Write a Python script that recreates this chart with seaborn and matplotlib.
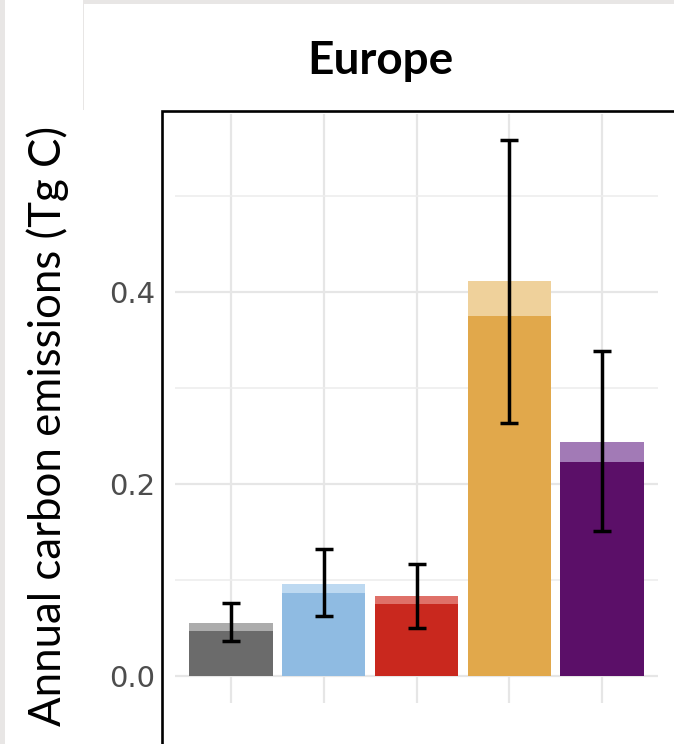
import numpy as np
import pandas as pd
import seaborn as sns
from matplotlib import pyplot as plt
from matplotlib.patches import Rectangle
from matplotlib.ticker import MultipleLocator

# bar values (Tg C)
categories = ["grey", "blue", "red", "orange", "purple"]
total_vals = [0.0555, 0.0958, 0.0833, 0.411, 0.244]   # light top of each bar
main_vals = [0.047, 0.086, 0.0746, 0.375, 0.223]      # dark part
err_low = [0.036, 0.062, 0.0497, 0.264, 0.151]
err_high = [0.076, 0.132, 0.1167, 0.5587, 0.339]
ytick_vals = [0.0, 0.2, 0.4]
ytick_labels = ["0.0", "0.2", "0.4"]

dark_cols = ["#6b6b6b", "#8fbbe2", "#c9281e", "#e1a84b", "#5b0f68"]
light_cols = ["#acacac", "#bdd9f1", "#df7068", "#efd19b", "#a27ab6"]

df = pd.DataFrame({"cat": categories, "total": total_vals, "main": main_vals})

sns.set_style("white")
plt.rcParams["font.family"] = ["DejaVu Sans"]

fig = plt.figure(figsize=(6.74, 7.44), dpi=100)
ax = fig.add_axes([175 / 674, (744 - 703) / 744, 483 / 674, 589 / 744])

sns.barplot(data=df, x="cat", y="total", hue="cat", palette=light_cols,
            width=0.9, saturation=1, legend=False, ax=ax, zorder=2,
            linewidth=0)
sns.barplot(data=df, x="cat", y="main", hue="cat", palette=dark_cols,
            width=0.9, saturation=1, legend=False, ax=ax, zorder=3,
            linewidth=0)

xpos = np.arange(len(categories))
mid = [(lo + hi) / 2 for lo, hi in zip(err_low, err_high)]
half = [(hi - lo) / 2 for lo, hi in zip(err_low, err_high)]
ax.errorbar(xpos, mid, yerr=half, fmt="none", ecolor="black",
            elinewidth=2.5, capsize=6.5, capthick=2.5, zorder=4)

ax.set_xlim(-0.6, 4.6)
ax.set_ylim(-0.0281, 0.5854)
ax.yaxis.set_minor_locator(MultipleLocator(0.1))
ax.set_yticks(ytick_vals)
ax.set_yticklabels(ytick_labels, fontsize=21, color="#4d4d4d")
ax.set_xticks(xpos)
ax.set_xticklabels([])
ax.grid(True, which="major", color="#e6e6e6", lw=1.6)
ax.grid(True, which="minor", axis="y", color="#ededed", lw=1.2)
ax.set_axisbelow(True)
ax.tick_params(axis="y", which="both", length=0, pad=14)
ax.tick_params(axis="x", length=0)
ax.set_xlabel("")
ax.set_ylabel("")
for s in ax.spines.values():
    s.set_visible(False)

# black frame round the panel (cut by the picture edge)
fig.patches.append(Rectangle((162 / 674, -0.2), 1.0, (744 - 111) / 744 + 0.2,
                             transform=fig.transFigure, fill=False,
                             edgecolor="black", lw=1.9, zorder=5))

# light grey screenshot edges
edge = "#e8e6e5"
fig.patches.append(Rectangle((0, 0), 5 / 674, 1, transform=fig.transFigure,
                             color=edge, lw=0))
fig.patches.append(Rectangle((83 / 674, 1 - 4 / 744), 1, 4 / 744,
                             transform=fig.transFigure, color=edge, lw=0))
fig.patches.append(Rectangle((83 / 674, 1 - 110 / 744), 1.2 / 674, 110 / 744,
                             transform=fig.transFigure, color=edge, lw=0))

fig.text(380 / 674, 1 - 61 / 744, "Europe", ha="center", va="center",
         fontsize=33, fontweight="bold", color="black",
         family=["Lato", "DejaVu Sans"])
fig.text(48 / 674, 1 - 426 / 744, "Annual carbon emissions (Tg C)",
         rotation=90, ha="center", va="center", fontsize=31.5, color="black",
         family=["Lato", "DejaVu Sans"])

fig.savefig("out.png", dpi=100)
